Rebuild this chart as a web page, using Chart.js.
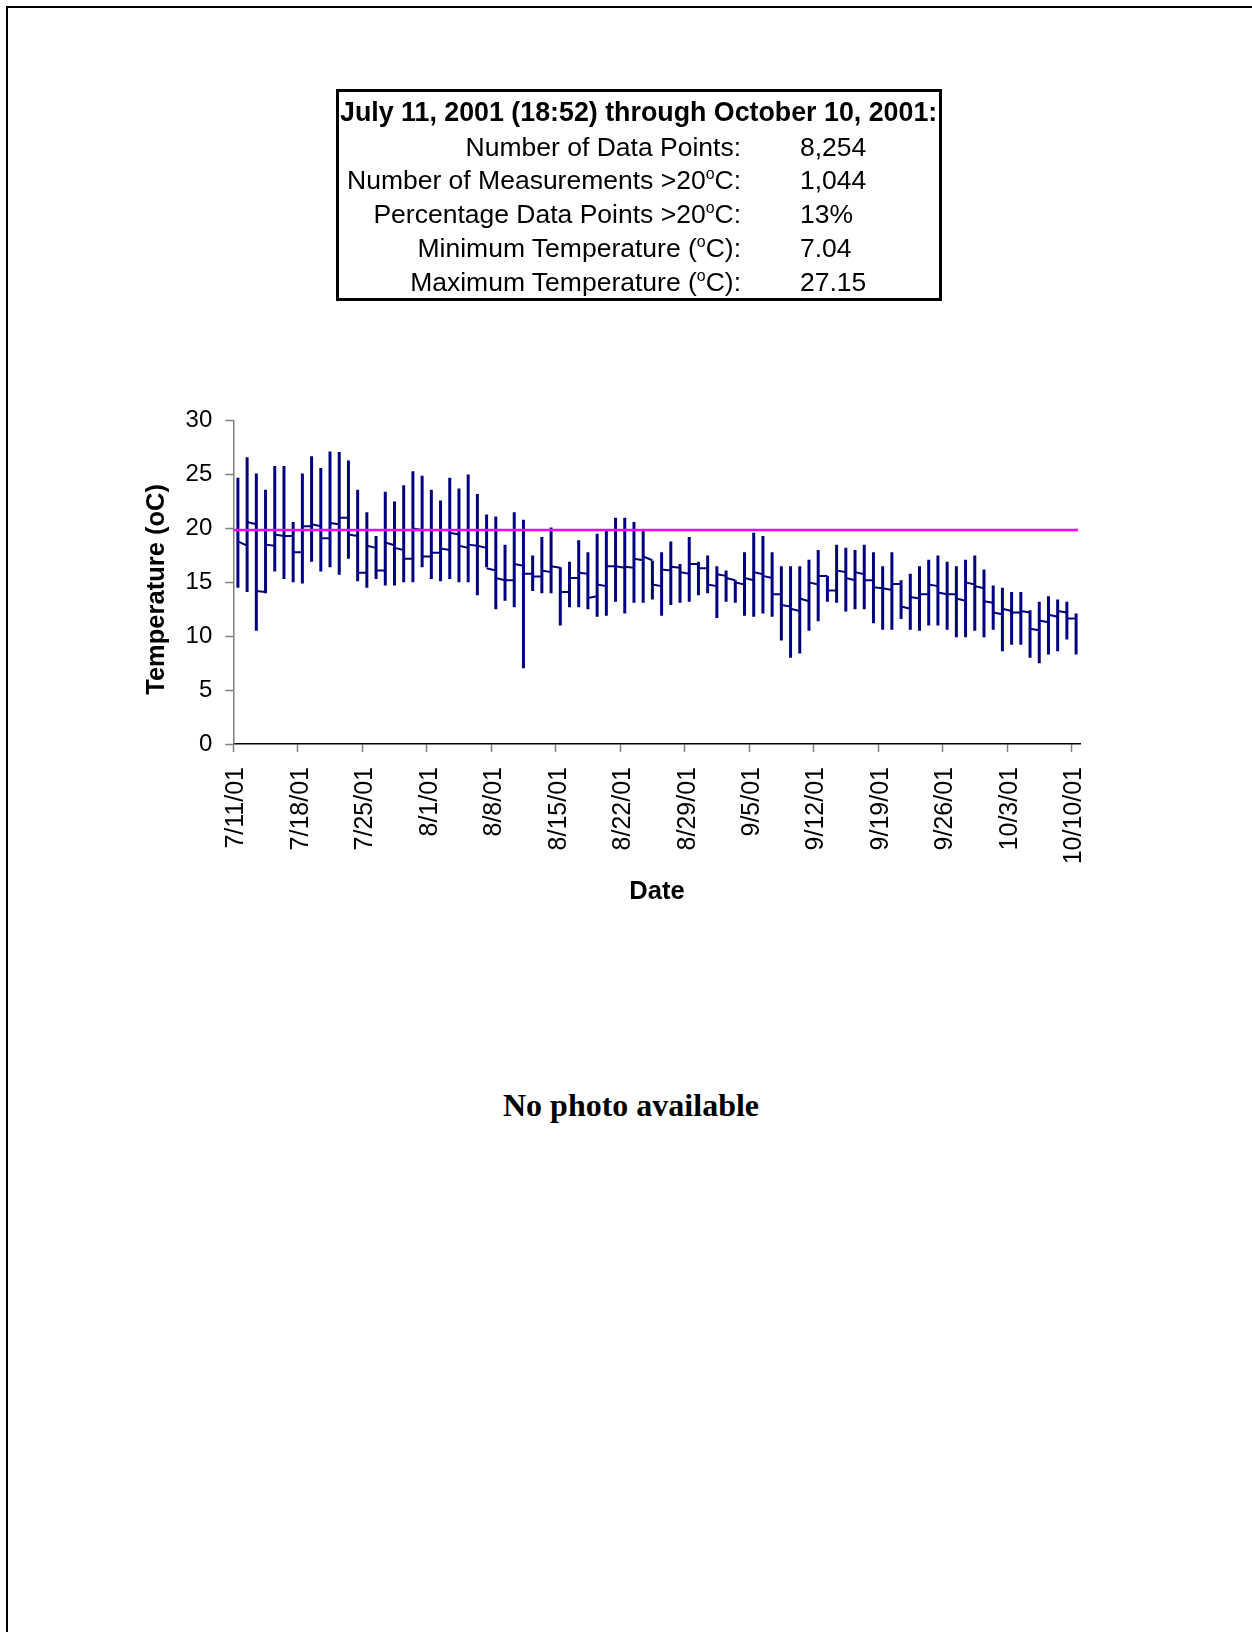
<!DOCTYPE html>
<html>
<head>
<meta charset="utf-8">
<title>Water temperature, July 11 – October 10, 2001</title>
<script src="https://cdn.jsdelivr.net/npm/chart.js@4/dist/chart.umd.min.js"></script>
<style>
  html, body { margin: 0; padding: 0; background: #fff; }
  body { width: 1252px; height: 1632px; position: relative; overflow: hidden; font-family: "Liberation Sans", Arial, sans-serif; color: #000; }
  .frame { position: absolute; left: 6px; top: 6px; width: 1400px; height: 1800px; border-left: 2px solid #000; border-top: 2px solid #000; }
  .stats { position: absolute; left: 336px; top: 89px; width: 606px; height: 212px; border: 3px solid #000; box-sizing: border-box; }
  .txt { position: absolute; font-size: 26.5px; line-height: 32px; height: 32px; white-space: nowrap; }
  .hdr { font-weight: bold; font-size: 26.8px; left: 340px; }
  .lbl { right: calc(1252px - 741px); text-align: right; }
  .val { left: 800px; }
  .sup { font-size: 0.6em; vertical-align: 0.65em; line-height: 0; }
  .nophoto { position: absolute; left: 0; width: 1262px; top: 1086px; text-align: center; font-family: "Liberation Serif", "Times New Roman", serif; font-weight: bold; font-size: 32px; line-height: 38px; }
  #chart { position: absolute; left: 0; top: 0; }
</style>
</head>
<body>
<div class="frame"></div>

<canvas id="chart" width="1252" height="907"></canvas>

<div class="stats"></div>
<div class="txt hdr" style="top:96px">July 11, 2001 (18:52) through October 10, 2001:</div>
<div class="txt lbl" style="top:131px">Number of Data Points:</div>
<div class="txt val" style="top:131px">8,254</div>
<div class="txt lbl" style="top:164px">Number of Measurements &gt;20<span class="sup">o</span>C:</div>
<div class="txt val" style="top:164px">1,044</div>
<div class="txt lbl" style="top:198px">Percentage Data Points &gt;20<span class="sup">o</span>C:</div>
<div class="txt val" style="top:198px">13%</div>
<div class="txt lbl" style="top:232px">Minimum Temperature (<span class="sup">o</span>C):</div>
<div class="txt val" style="top:232px">7.04</div>
<div class="txt lbl" style="top:266px">Maximum Temperature (<span class="sup">o</span>C):</div>
<div class="txt val" style="top:266px">27.15</div>

<div class="nophoto">No photo available</div>

<script>
// Daily temperature range (°C), one entry per day from 7/11/01 to 10/10/01
const dailyMax = [
  24.7, 26.6, 25.1, 23.6, 25.8, 25.8, 20.6, 25.1, 26.7, 25.6,
  27.15, 27.1, 26.3, 23.6, 21.5, 19.3, 23.4, 22.5, 24.0, 25.3,
  24.9, 23.6, 22.6, 24.7, 23.7, 25.0, 23.2, 21.3, 21.1, 18.5,
  21.5, 20.8, 17.5, 19.2, 20.1, 16.4, 16.9, 18.9, 17.8, 19.5,
  19.8, 21.0, 21.0, 20.6, 19.8, 17.0, 17.8, 18.8, 16.7, 19.2,
  16.9, 17.5, 16.5, 16.1, 15.2, 17.8, 19.6, 19.3, 17.8, 16.5,
  16.5, 16.5, 17.1, 18.0, 15.6, 18.5, 18.2, 18.0, 18.5, 17.8,
  16.5, 17.8, 15.2, 15.8, 16.5, 17.1, 17.5, 16.9, 16.5, 17.1,
  17.5, 16.2, 14.7, 14.5, 14.1, 14.1, 12.4, 13.2, 13.7, 13.4,
  13.2, 12.1
];
const dailyMin = [
  14.5, 14.1, 10.5, 14.0, 16.0, 15.3, 15.0, 14.9, 16.9, 16.0,
  16.4, 15.7, 17.2, 15.1, 14.5, 15.3, 14.7, 14.7, 15.0, 15.0,
  16.4, 15.3, 15.1, 15.3, 15.0, 15.0, 13.8, 16.4, 12.5, 13.3,
  12.7, 7.04, 14.2, 14.0, 14.0, 11.0, 12.7, 12.7, 12.5, 11.8,
  11.9, 13.2, 12.1, 13.1, 13.1, 13.4, 11.9, 12.9, 13.1, 13.2,
  13.8, 14.0, 11.7, 13.2, 13.1, 11.9, 11.8, 12.1, 11.8, 9.6,
  8.0, 8.4, 10.5, 11.4, 13.2, 13.1, 12.3, 12.5, 12.5, 11.2,
  10.6, 10.6, 11.6, 10.6, 10.5, 11.0, 11.0, 10.6, 9.9, 9.9,
  10.5, 9.9, 10.6, 8.6, 9.2, 9.2, 8.0, 7.5, 8.3, 8.6,
  9.7, 8.3
];
// Mean temperature segments joining one day's range line to the next
const meanStart = [
  18.8, 20.6, 14.2, 18.5, 19.45, 19.3, 17.8, 20.2, 20.4, 19.1,
  20.5, 21.0, 19.45, 15.9, 18.4, 16.1, 18.7, 18.2, 17.2, 20.0,
  17.4, 17.75, 18.15, 19.6, 18.4, 18.5, 18.4, 16.3, 15.4, 15.2,
  16.7, 15.8, 15.55, 16.1, 16.5, 14.1, 15.4, 15.9, 13.55, 14.8,
  16.5, 16.5, 16.45, 17.2, 17.4, 14.8, 16.2, 16.45, 15.95, 16.7,
  16.3, 14.8, 15.75, 15.4, 15.0, 15.4, 15.95, 15.6, 13.9, 12.9,
  12.55, 13.5, 15.0, 15.6, 14.25, 16.1, 15.4, 15.95, 15.2, 14.55,
  14.45, 14.85, 12.75, 13.65, 13.9, 14.8, 14.05, 13.9, 13.5, 15.0,
  14.65, 13.25, 12.2, 12.55, 12.2, 12.35, 10.7, 11.45, 12.0, 12.35,
  11.65
];
const meanEnd = [
  18.4, 20.4, 14.1, 18.4, 19.3, 19.3, 17.8, 20.2, 20.2, 19.1,
  20.4, 21.0, 19.3, 15.9, 18.2, 16.1, 18.45, 18.0, 17.2, 19.85,
  17.4, 17.75, 18.0, 19.45, 18.2, 18.4, 18.2, 16.1, 15.2, 15.2,
  16.55, 15.8, 15.55, 15.95, 16.35, 14.1, 15.4, 15.8, 13.7, 14.65,
  16.5, 16.35, 16.35, 17.05, 17.05, 14.65, 16.1, 16.35, 15.8, 16.7,
  16.3, 14.65, 15.6, 15.2, 14.8, 15.2, 15.75, 15.4, 13.9, 12.75,
  12.35, 13.25, 14.8, 15.6, 14.25, 15.95, 15.2, 15.75, 15.2, 14.45,
  14.3, 14.85, 12.55, 13.5, 13.9, 14.65, 13.9, 13.9, 13.3, 14.8,
  14.45, 13.1, 12.05, 12.35, 12.2, 12.2, 10.55, 11.3, 11.8, 12.2,
  11.65
];
// 20 °C reference line, drawn across the record (x in days after 7/11/01)
const thresholdDays = [0, 91.7];
const thresholdTemp = 19.85;

// Weekly date axis
const tickDays = [0, 7, 14, 21, 28, 35, 42, 49, 56, 63, 70, 77, 84, 91];
const tickLabels = ['7/11/01', '7/18/01', '7/25/01', '8/1/01', '8/8/01', '8/15/01', '8/22/01',
                    '8/29/01', '9/5/01', '9/12/01', '9/19/01', '9/26/01', '10/3/01', '10/10/01'];
const axisEndDay = 92;
const yTicks = [0, 5, 10, 15, 20, 25, 30];

// Each day's values sit at midday
const dayPos = i => i + 0.5;

const rangePoints = [];
dailyMax.forEach((hi, i) => {
  rangePoints.push({x: dayPos(i), y: dailyMin[i]}, {x: dayPos(i), y: hi}, {x: dayPos(i), y: null});
});
const meanPoints = [];
meanStart.forEach((s, i) => {
  meanPoints.push({x: dayPos(i), y: s}, {x: dayPos(i + 1), y: meanEnd[i]}, {x: dayPos(i + 1), y: null});
});
const thresholdPoints = thresholdDays.map(d => ({x: d, y: thresholdTemp}));

const NAVY = '#000080';
const AXIS_GREY = '#808080';
const SANS = '"Liberation Sans", Arial, sans-serif';

new Chart(document.getElementById('chart'), {
  type: 'line',
  data: {
    datasets: [
      { data: thresholdPoints, borderColor: '#FF00FF', borderWidth: 2.5, pointRadius: 0, fill: false },
      { data: meanPoints, borderColor: NAVY, borderWidth: 2, pointRadius: 0, spanGaps: false, fill: false, borderCapStyle: 'butt' },
      { data: rangePoints, borderColor: NAVY, borderWidth: 3, pointRadius: 0, spanGaps: false, fill: false, borderCapStyle: 'butt' }
    ]
  },
  options: {
    responsive: false,
    animation: false,
    devicePixelRatio: 1,
    events: [],
    layout: { padding: { left: 130, top: 420.7, right: 171.3, bottom: 0 } },
    plugins: { legend: { display: false }, tooltip: { enabled: false } },
    scales: {
      x: {
        type: 'linear',
        min: 0,
        max: axisEndDay,
        afterBuildTicks: s => { s.ticks = tickDays.map(v => ({ value: v })); },
        afterFit: s => { s.height = 163; },
        grid: { drawOnChartArea: false, drawTicks: true, tickLength: 8, tickColor: AXIS_GREY, tickWidth: 1.5 },
        border: { color: '#000', width: 1.5 },
        ticks: {
          autoSkip: false,
          minRotation: 90,
          maxRotation: 90,
          padding: 15,
          labelOffset: 3,
          color: '#000',
          font: { family: SANS, size: 25 },
          callback: (v, i) => tickLabels[i]
        },
        title: {
          display: true,
          text: 'Date',
          color: '#000',
          font: { family: SANS, size: 25.5, weight: 'bold' },
          padding: { top: 0, bottom: 0 }
        }
      },
      y: {
        min: 0,
        max: 30,
        afterBuildTicks: s => { s.ticks = yTicks.map(v => ({ value: v })); },
        afterFit: s => { s.width = 103.3; },
        grid: { drawOnChartArea: false, drawTicks: true, tickLength: 8, tickColor: AXIS_GREY, tickWidth: 1.5 },
        border: { color: AXIS_GREY, width: 1.5 },
        ticks: {
          padding: 13,
          color: '#000',
          font: { family: SANS, size: 24 }
        },
        title: {
          display: true,
          text: 'Temperature (oC)  ',
          color: '#000',
          font: { family: SANS, size: 25.5, weight: 'bold' },
          padding: { top: 11.6, bottom: 0 }
        }
      }
    }
  }
});
</script>
</body>
</html>
